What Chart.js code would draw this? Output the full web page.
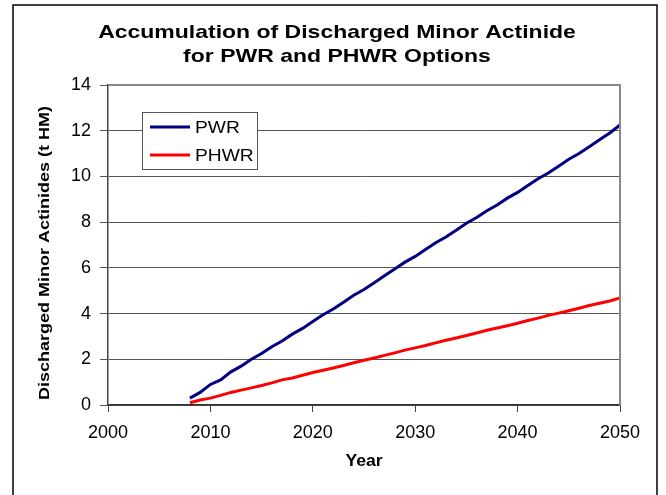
<!DOCTYPE html>
<html>
<head>
<meta charset="utf-8">
<script src="https://cdn.jsdelivr.net/npm/chart.js@4/dist/chart.umd.min.js"></script>
<style>
  html, body { margin: 0; padding: 0; background: #fff; }
  #wrap { width: 666px; height: 495px; }
</style>
</head>
<body>
<div id="wrap"><canvas id="myChart" width="666" height="495"></canvas></div>
<script>
// values
var years = [2008, 2009, 2010, 2011, 2012, 2013, 2014, 2015, 2016, 2017, 2018, 2019, 2020,
             2021, 2022, 2023, 2024, 2025, 2026, 2027, 2028, 2029, 2030, 2031, 2032, 2033,
             2034, 2035, 2036, 2037, 2038, 2039, 2040, 2041, 2042, 2043, 2044, 2045, 2046,
             2047, 2048, 2049, 2050];
var pwrValues = [0.3, 0.55, 0.9, 1.1, 1.45, 1.7, 2.0, 2.25, 2.55, 2.8, 3.1, 3.35, 3.65,
                 3.95, 4.2, 4.5, 4.8, 5.05, 5.35, 5.65, 5.95, 6.25, 6.5, 6.8, 7.1, 7.35,
                 7.65, 7.95, 8.2, 8.5, 8.75, 9.05, 9.3, 9.6, 9.9, 10.15, 10.45, 10.75, 11.0,
                 11.3, 11.6, 11.9, 12.25];
var phwrValues = [0.1, 0.22, 0.3, 0.42, 0.55, 0.65, 0.75, 0.85, 0.97, 1.1, 1.18, 1.3, 1.42,
                  1.52, 1.62, 1.73, 1.85, 1.96, 2.06, 2.17, 2.28, 2.4, 2.5, 2.6, 2.72, 2.83,
                  2.93, 3.04, 3.15, 3.27, 3.37, 3.47, 3.58, 3.7, 3.8, 3.92, 4.02, 4.12, 4.23,
                  4.35, 4.45, 4.55, 4.68];
var seriesNames = ['PWR', 'PHWR'];
var titleLines = ['Accumulation of Discharged Minor Actinide', 'for PWR and PHWR Options'];
var xTitle = 'Year';
var yTitle = 'Discharged Minor Actinides (t HM)';

function toPoints(vals) {
    var pts = [];
    for (var i = 0; i < years.length; i++) {
        pts.push({x: years[i], y: vals[i]});
    }
    return pts;
}

var FONT = 'Arial, "Liberation Sans", sans-serif';

// text a bit wider than the font, like the source picture
function wideText(c, text, x, y, sx) {
    c.save();
    c.translate(x, y);
    c.scale(sx, 1);
    c.fillText(text, 0, 0);
    c.restore();
}

// white page, outer border, titles, plot box and legend
var framePlugin = {
    id: 'frame',
    beforeDraw: function(chart) {
        var c = chart.ctx;
        c.save();
        c.fillStyle = '#fff';
        c.fillRect(0, 0, chart.width, chart.height);
        c.strokeStyle = '#000';
        c.lineWidth = 1.5;
        c.beginPath();
        c.moveTo(13, 495);
        c.lineTo(13, 5);
        c.lineTo(657, 5);
        c.lineTo(657, 495);
        c.stroke();
        c.fillStyle = '#000';
        c.textAlign = 'center';
        c.textBaseline = 'middle';
        c.font = 'bold 19px ' + FONT;
        wideText(c, titleLines[0], 337, 33, 1.21);
        wideText(c, titleLines[1], 337, 57, 1.21);
        c.font = 'bold 16px ' + FONT;
        wideText(c, xTitle, 364, 462, 1.1);
        c.save();
        c.translate(45, 253);
        c.rotate(-Math.PI / 2);
        c.font = 'bold 15px ' + FONT;
        wideText(c, yTitle, 0, 0, 1.2);
        c.restore();
        c.restore();
    },
    afterDraw: function(chart) {
        var a = chart.chartArea;
        var c = chart.ctx;
        c.save();
        // top and right side of plot box
        c.strokeStyle = '#888';
        c.lineWidth = 2;
        c.beginPath();
        c.moveTo(a.left, a.top);
        c.lineTo(a.right, a.top);
        c.lineTo(a.right, a.bottom);
        c.stroke();
        // legend box
        c.fillStyle = '#fff';
        c.fillRect(142, 112, 115, 57);
        c.strokeStyle = '#555';
        c.lineWidth = 1;
        c.strokeRect(142.5, 112.5, 115, 57);
        var ds = chart.data.datasets;
        for (var i = 0; i < ds.length; i++) {
            var y = 127 + i * 28;
            c.strokeStyle = ds[i].borderColor;
            c.lineWidth = 3;
            c.beginPath();
            c.moveTo(150, y);
            c.lineTo(190, y);
            c.stroke();
            c.fillStyle = '#000';
            c.font = '17px ' + FONT;
            c.textAlign = 'left';
            c.textBaseline = 'middle';
            wideText(c, ds[i].label, 195, y + 1, 1.13);
        }
        c.restore();
    }
};

var ctx = document.getElementById('myChart').getContext('2d');
var chart = new Chart(ctx, {
    type: 'line',
    data: {
        datasets: [{
            label: seriesNames[0],
            data: toPoints(pwrValues),
            borderColor: '#000080',
            borderWidth: 3,
            pointRadius: 0,
            fill: false
        }, {
            label: seriesNames[1],
            data: toPoints(phwrValues),
            borderColor: '#ff0000',
            borderWidth: 3,
            pointRadius: 0,
            fill: false
        }]
    },
    options: {
        responsive: false,
        animation: false,
        layout: { padding: { top: 85, right: 46, bottom: 0, left: 36 } },
        plugins: {
            legend: { display: false },
            title: { display: false },
            tooltip: { enabled: false }
        },
        scales: {
            x: {
                type: 'linear',
                min: 2000,
                max: 2050,
                afterFit: function(s) { s.height = 90; },
                ticks: { stepSize: 10, color: '#000', padding: 10, font: { family: FONT, size: 18 },
                         callback: function(v) { return String(v); } },
                grid: { drawOnChartArea: false, drawTicks: true, tickLength: 7, color: '#444' },
                border: { color: '#333', width: 1.5 }
            },
            y: {
                min: 0,
                max: 14,
                afterFit: function(s) { s.width = 108 - 36; },
                ticks: { stepSize: 2, color: '#000', padding: 9, font: { family: FONT, size: 18 } },
                grid: { color: '#555', lineWidth: 1, tickLength: 8 },
                border: { color: '#444', width: 1.5 }
            }
        }
    },
    plugins: [framePlugin]
});
</script>
</body>
</html>
